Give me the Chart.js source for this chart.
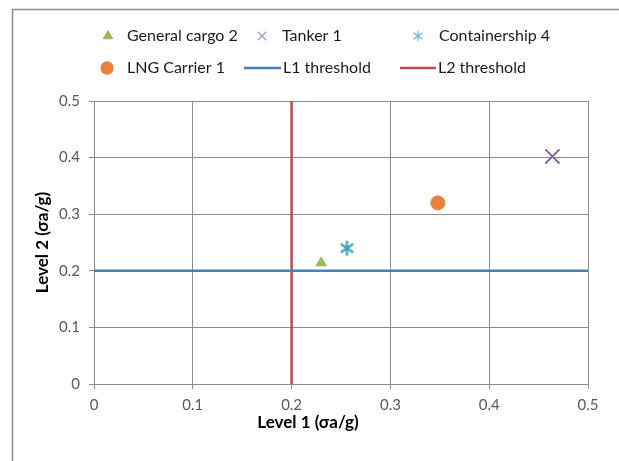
<!DOCTYPE html>
<html lang="en">
<head>
  <meta charset="UTF-8">
  <title>Level 1 vs Level 2</title>
  <script src="https://cdn.jsdelivr.net/npm/chart.js"></script>
  <style>
    body { margin: 0; background: #fff; }
    #wrap { width: 619px; height: 461px; }
  </style>
</head>
<body>
  <div id="wrap"><canvas id="levelChart" width="619" height="461"></canvas></div>

  <script>
    // data
    var seriesNames = ['General cargo 2', 'Tanker 1', 'Containership 4', 'LNG Carrier 1'];
    var level1 = [0.23, 0.464, 0.256, 0.348];
    var level2 = [0.214, 0.402, 0.24, 0.32];
    var seriesColors = ['#9bbb59', '#8064a2', '#3fa2be', '#e8823a'];
    var thresholdNames = ['L1 threshold', 'L2 threshold'];
    var l1Threshold = 0.2;   // on level 2 axis
    var l2Threshold = 0.2;   // on level 1 axis
    var axisMin = 0, axisMax = 0.5, axisStep = 0.1;

    // asterisk marker (x plus vertical)
    function makeAsterisk(color, size, width) {
      var c = document.createElement('canvas');
      c.width = size; c.height = size;
      var g = c.getContext('2d');
      var m = size / 2, r = size / 2 - 1;
      g.strokeStyle = color;
      g.lineWidth = width;
      g.beginPath();
      [90, 35, 145].forEach(function (a) {
        var rad = a * Math.PI / 180;
        g.moveTo(m - r * Math.cos(rad), m - r * Math.sin(rad));
        g.lineTo(m + r * Math.cos(rad), m + r * Math.sin(rad));
      });
      g.stroke();
      return c;
    }

    var pointStyles = ['triangle', 'crossRot', makeAsterisk(seriesColors[2], 17, 2.3), 'circle'];
    var pointRadius = [6, 10, 8, 7];

    var datasets = seriesNames.map(function (name, i) {
      return {
        label: name,
        data: [{ x: level1[i], y: level2[i] }],
        pointStyle: pointStyles[i],
        pointRadius: pointRadius[i],
        pointHoverRadius: pointRadius[i],
        backgroundColor: seriesColors[i],
        borderColor: seriesColors[i],
        borderWidth: i == 1 ? 2 : 1,
        showLine: false
      };
    });
    datasets.push({
      label: thresholdNames[0],
      data: [{ x: axisMin, y: l1Threshold }, { x: axisMax, y: l1Threshold }],
      showLine: true, pointRadius: 0, borderColor: '#4a7ebb', borderWidth: 2.5
    });
    datasets.push({
      label: thresholdNames[1],
      data: [{ x: l2Threshold, y: axisMin }, { x: l2Threshold, y: axisMax }],
      showLine: true, pointRadius: 0, borderColor: '#be4b48', borderWidth: 2.5
    });

    var font = "Lato, 'Open Sans', sans-serif";

    // frame, legend and x title drawn by hand to follow the original layout
    var decorPlugin = {
      id: 'decor',
      beforeDraw: function (chart) {
        var ctx = chart.ctx;
        ctx.save();
        ctx.strokeStyle = '#8c8c8c';
        ctx.lineWidth = 1.5;
        ctx.beginPath();
        ctx.moveTo(12.5, 461);
        ctx.lineTo(12.5, 9.5);
        ctx.lineTo(619, 9.5);
        ctx.stroke();
        ctx.restore();
      },
      afterDraw: function (chart) {
        var ctx = chart.ctx;
        ctx.save();
        ctx.font = '16px ' + font;
        ctx.fillStyle = '#1a1a1a';
        ctx.textBaseline = 'middle';
        var slots = [[108, 36, 127], [262, 36, 282], [418, 36, 439], [107, 68, 127]];
        var legendSizes = [5, 6, 13, 6];
        var legendColors = [seriesColors[0], '#a896c8', '#6bbdd4', seriesColors[3]];
        seriesNames.forEach(function (name, i) {
          var s = slots[i];
          if (i == 2) {
            var img = makeAsterisk(legendColors[i], legendSizes[i], 1.3);
            ctx.drawImage(img, s[0] - legendSizes[i] / 2, s[1] - legendSizes[i] / 2);
          } else {
            ctx.fillStyle = legendColors[i];
            ctx.strokeStyle = legendColors[i];
            ctx.lineWidth = 1.3;
            Chart.helpers.drawPoint(ctx, { pointStyle: pointStyles[i], radius: legendSizes[i], rotation: 0, borderWidth: 1.3 }, s[0], s[1]);
          }
          ctx.fillStyle = '#1a1a1a';
          ctx.fillText(name, s[2], s[1]);
        });
        var lineSlots = [[244, 281, 283], [400, 436, 438]];
        thresholdNames.forEach(function (name, i) {
          var s = lineSlots[i];
          ctx.strokeStyle = datasets[4 + i].borderColor;
          ctx.lineWidth = 2.5;
          ctx.beginPath();
          ctx.moveTo(s[0], 68);
          ctx.lineTo(s[1], 68);
          ctx.stroke();
          ctx.fillStyle = '#1a1a1a';
          ctx.fillText(name, s[2], 68);
        });
        ctx.font = 'bold 17px ' + font;
        ctx.fillStyle = '#000';
        ctx.textAlign = 'center';
        ctx.fillText('Level 1 (σa/g)', 308, 423);
        ctx.restore();
      }
    };

    var levelChartCtx = document.getElementById('levelChart').getContext('2d');

    var levelChart = new Chart(levelChartCtx, {
      type: 'scatter',
      data: { datasets: datasets },
      plugins: [decorPlugin],
      options: {
        responsive: false,
        animation: false,
        layout: { padding: { left: 0, top: 101, right: 31, bottom: 0 } },
        plugins: {
          legend: { display: false },
          tooltip: { enabled: false }
        },
        scales: {
          x: {
            type: 'linear',
            min: axisMin, max: axisMax,
            afterFit: function (scale) { scale.height = 77; },
            ticks: {
              stepSize: axisStep,
              padding: 7,
              color: '#595959',
              font: { family: font, size: 15 }
            },
            grid: { color: '#8c8c8c', tickLength: 5, lineWidth: 1 },
            border: { color: '#8c8c8c' }
          },
          y: {
            type: 'linear',
            min: axisMin, max: axisMax,
            afterFit: function (scale) { scale.width = 94; },
            ticks: {
              stepSize: axisStep,
              padding: 9,
              color: '#595959',
              font: { family: font, size: 15 }
            },
            grid: { color: '#8c8c8c', tickLength: 5, lineWidth: 1 },
            border: { color: '#8c8c8c' },
            title: {
              display: true,
              text: 'Level 2 (σa/g)',
              color: '#000',
              font: { family: font, size: 17, weight: 'bold' },
              padding: { top: 32, bottom: 6 }
            }
          }
        }
      }
    });
  </script>
</body>
</html>
